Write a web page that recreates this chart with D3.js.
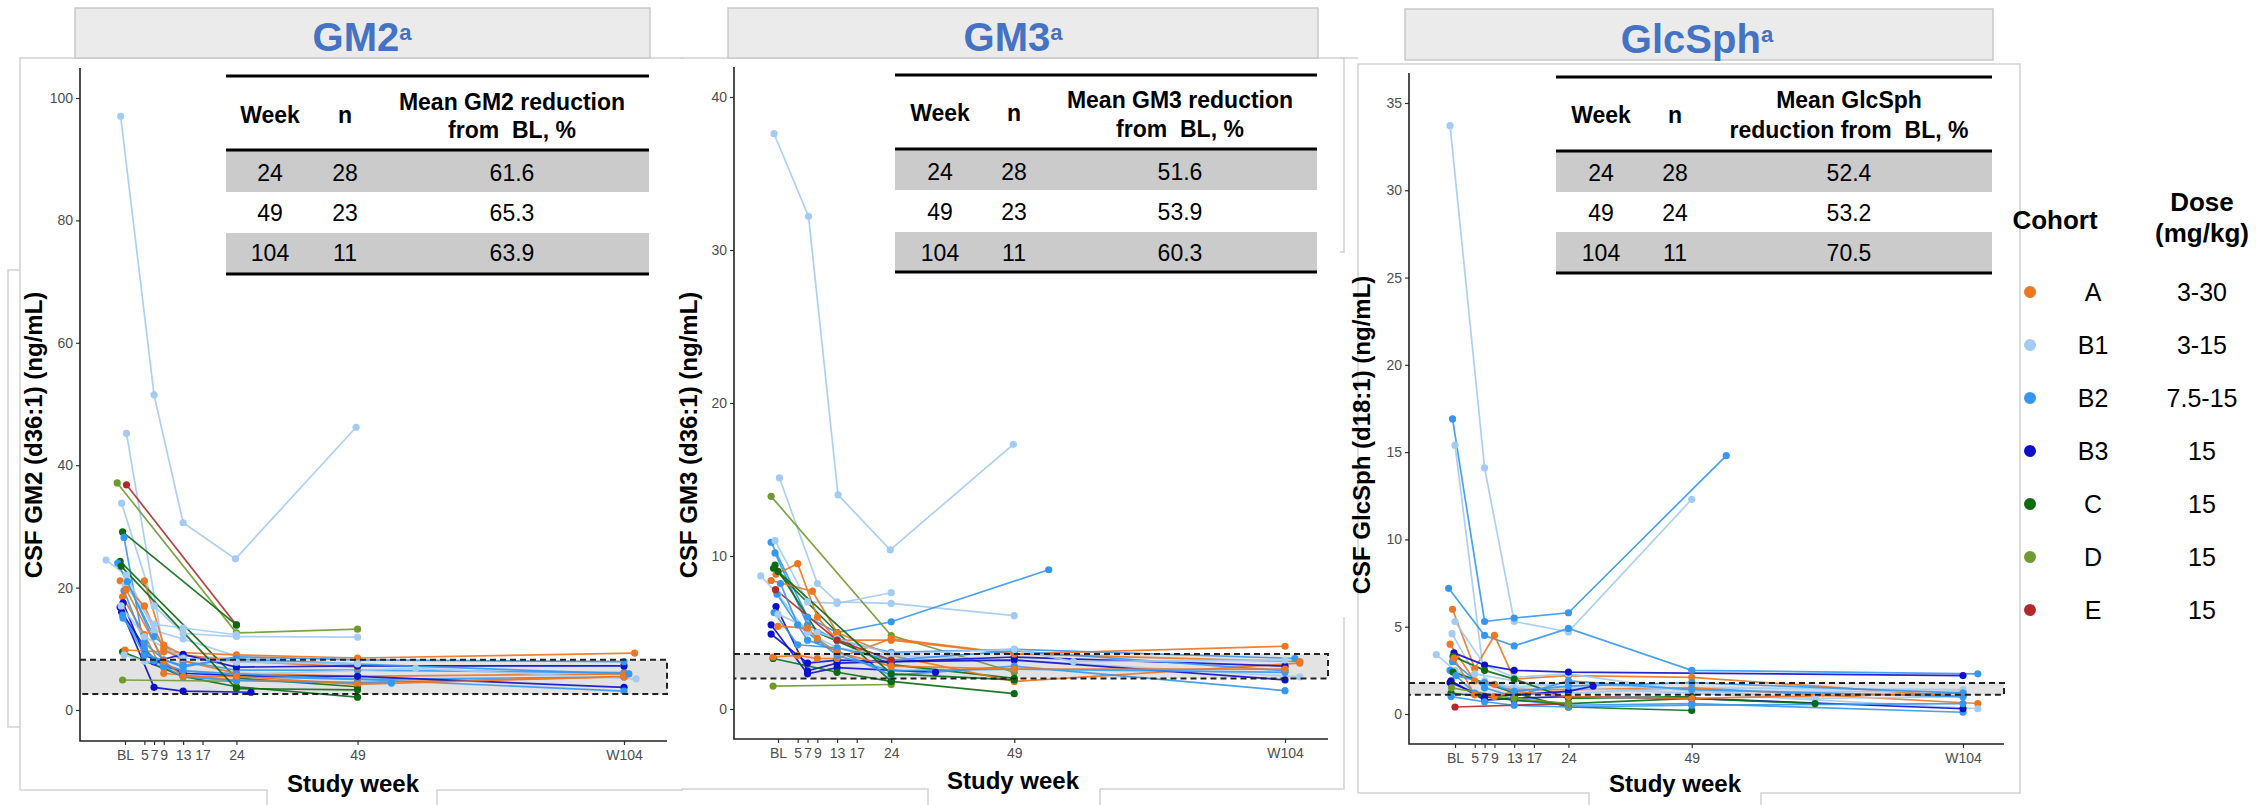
<!DOCTYPE html>
<html>
<head>
<meta charset="utf-8">
<script src="https://cdn.jsdelivr.net/npm/d3@7"></script>
<style>
  body { margin: 0; background: #fff; }
  svg { display: block; font-family: "Liberation Sans", Arial, sans-serif; }
</style>
</head>
<body>
<div id="chart"></div>
<script>
// ---- data ----
var weekTicks = [1, 5, 7, 9, 13, 17, 24, 49, 104];
var weekLabels = ["BL", "5", "7", "9", "13", "17", "24", "49", "W104"];

var cohorts = ["A", "B1", "B2", "B3", "C", "D", "E"];
var doses = ["3-30", "3-15", "7.5-15", "15", "15", "15", "15"];
var cohortColors = ["#ec7622", "#a3cbf3", "#3597f0", "#0c10cc", "#0b6a12", "#6f9a30", "#b02a2a"];

var tableWeeks = [24, 49, 104];
var gm2N = [28, 23, 11], gm2Mean = ["61.6", "65.3", "63.9"];
var gm3N = [28, 23, 11], gm3Mean = ["51.6", "53.9", "60.3"];
var glcN = [28, 24, 11], glcMean = ["52.4", "53.2", "70.5"];

var gm2Ticks = [0, 20, 40, 60, 80, 100];
var gm3Ticks = [0, 10, 20, 30, 40];
var glcTicks = [0, 5, 10, 15, 20, 25, 30, 35];

// normal range band (lower, upper)
var gm2Band = [2.6, 8.2];
var gm3Band = [2.0, 3.6];
var glcBand = [1.1, 1.78];

// one entry per subject: cohort + [week, value] visits
var gm2Subjects = [
  {c: "B1", v: [[0.1, 97], [7, 51.5], [13, 30.6], [23.8, 24.7], [48.7, 46.2]]},
  {c: "B1", v: [[1.3, 45.2], [9, 9.5], [13, 8.8], [24, 8.5], [49, 7.5]]},
  {c: "D",  v: [[-0.6, 37.1], [24, 12.6], [49, 13.2]]},
  {c: "E",  v: [[1.3, 36.8], [24, 13.9]]},
  {c: "B1", v: [[0.3, 33.8], [7, 17], [13, 12.5], [24, 12], [49, 11.9]]},
  {c: "C",  v: [[0.5, 29.1], [24, 13.9]]},
  {c: "B2", v: [[0.8, 28.2], [5, 10], [9, 7], [13, 6.5], [24, 5.5], [49, 5], [104, 5.4]]},
  {c: "B1", v: [[-2.9, 24.5], [1.3, 22], [7, 13], [13, 11.6], [24, 8.8], [49, 7.2], [104, 7.2]]},
  {c: "C",  v: [[0, 24.3], [24, 5.2], [49, 3.8]]},
  {c: "B2", v: [[-0.5, 24], [7, 12], [13, 8], [24, 6.5], [49, 6.5], [104, 6.1]]},
  {c: "A",  v: [[0, 21.1], [5, 17], [9, 10], [13, 8], [24, 6], [49, 5.5], [104, 5.9]]},
  {c: "A",  v: [[5, 21.1], [9, 10.6], [13, 9], [24, 8], [49, 7]]},
  {c: "B3", v: [[0, 16.8], [7, 3.7], [13, 3.1], [27, 2.9]]},
  {c: "B3", v: [[0.3, 16], [7, 7.9], [13, 9.1], [24, 7], [49, 7.2], [104, 7.2]]},
  {c: "A",  v: [[0.5, 18.5], [5, 12.3], [9, 6], [24, 4.9], [49, 4.5], [104, 5.4]]},
  {c: "B2", v: [[0.8, 19.5], [5, 11], [9, 8.2], [13, 7], [24, 8.7], [49, 8.2], [104, 7.9]]},
  {c: "B1", v: [[1, 20.5], [7, 14], [13, 13.4], [24, 12.3]]},
  {c: "C",  v: [[0.5, 9.5], [13, 5.5], [24, 3.8], [49, 2.1]]},
  {c: "D",  v: [[0.5, 4.9], [24, 4.7]]},
  {c: "A",  v: [[1, 9.8], [9, 9.5], [24, 9], [49, 8.5], [106.2, 9.3]]},
  {c: "B2", v: [[0.6, 15], [7, 8], [13, 5.4], [24, 4.8], [49, 4.4], [56, 4.4]]},
  {c: "B1", v: [[0.8, 9], [5, 8], [13, 6.5], [24, 5.8], [61, 6.8], [106.5, 5.1]]},
  {c: "B3", v: [[0.6, 17.5], [5, 9], [13, 6], [24, 5.6], [49, 5.5], [104, 3.7]]},
  {c: "B2", v: [[1.5, 21], [9, 7.5], [13, 6.4], [24, 5.9], [104, 3.1]]},
  {c: "A",  v: [[1.2, 19.7], [9, 8], [13, 5.5], [24, 5.5], [49, 4.2], [104, 5.5]]},
  {c: "B2", v: [[0.5, 15.5], [5, 9], [13, 7.3], [24, 8.3], [49, 7.5], [105, 5.9]]},
  {c: "C",  v: [[0.2, 23.5], [24, 3.5], [49, 3.3]]},
  {c: "B1", v: [[0.2, 17], [5, 12], [13, 8.5], [24, 7.8], [49, 7.6]]}
];

var gm3Subjects = [
  {c: "B1", v: [[0.2, 37.6], [7.2, 32.2], [13.2, 14.0], [23.8, 10.4], [48.8, 17.3]]},
  {c: "B1", v: [[1.3, 15.1], [9, 8.2], [13, 7], [24, 6.9], [49, 6.1]]},
  {c: "D",  v: [[-0.4, 13.9], [24, 4.8], [49, 2.4]]},
  {c: "B2", v: [[-0.4, 10.9], [7, 6], [13, 5], [24, 5.7], [56, 9.1]]},
  {c: "B1", v: [[0.4, 11.0], [7, 7], [13, 6.9], [24, 7.6]]},
  {c: "B2", v: [[0.4, 10.2], [7, 5.5], [13, 4.5], [24, 3.7], [49, 3.9], [106, 3.3]]},
  {c: "C",  v: [[0.4, 9.4], [9, 5], [24, 2.9], [49, 2.0]]},
  {c: "C",  v: [[0.1, 9.2], [13, 5], [24, 1.8], [49, 1.0]]},
  {c: "A",  v: [[0.6, 8.8], [5, 9.5], [9, 6], [13, 4.5], [24, 4.5], [49, 3.6], [104, 4.1]]},
  {c: "A",  v: [[-0.4, 8.4], [8, 7.7], [13, 5], [24, 3.5], [49, 1.8], [107, 3.0]]},
  {c: "B1", v: [[-2.5, 8.7], [1, 7.5], [7, 5], [13, 4], [24, 3.5], [49, 3.2], [107, 2.1]]},
  {c: "B3", v: [[0.6, 6.7], [7, 2.5], [13, 3], [24, 3.1], [49, 3.4], [104, 2.8]]},
  {c: "B3", v: [[-0.4, 5.5], [7, 2.3], [13, 2.7], [33, 2.4]]},
  {c: "B3", v: [[-0.4, 4.9], [7, 3], [13, 3.2], [24, 3.1], [49, 3.2], [104, 1.9]]},
  {c: "D",  v: [[0, 1.5], [24, 1.6]]},
  {c: "C",  v: [[0, 3.3], [13, 2.4], [24, 1.8]]},
  {c: "A",  v: [[0, 3.4], [5, 3.5], [9, 3.3], [13, 3.3], [24, 4.6], [49, 3.6], [107, 3.1]]},
  {c: "B2", v: [[0.8, 7.5], [7, 4.5], [13, 3.8], [24, 2.2], [49, 2.8], [104, 1.2]]},
  {c: "B2", v: [[0.2, 6.3], [5, 4.2], [13, 4], [24, 3.2], [49, 3.8], [104, 2.5]]},
  {c: "B1", v: [[1, 6.2], [9, 5], [13, 4.6], [24, 3.6], [49, 3.9], [61, 3.1], [104, 3.2]]},
  {c: "E",  v: [[0.5, 7.8], [13, 4.5], [24, 3.2]]},
  {c: "B2", v: [[1.5, 8.2], [5, 5.5], [9, 4.5], [13, 3.5], [24, 2.5], [49, 2.6], [104, 2.4]]},
  {c: "A",  v: [[1, 5.4], [7, 5.3], [9, 4.6], [13, 3.7], [24, 2.8], [49, 2.6], [104, 2.6]]},
  {c: "C",  v: [[1, 9.0], [24, 2.3], [49, 1.9]]}
];

var glcSubjects = [
  {c: "B1", v: [[0, 33.7], [7, 14.1], [13, 5.3], [24, 4.7], [49, 12.3]]},
  {c: "B2", v: [[0.5, 16.9], [7, 5.3], [13, 5.5], [24, 5.8], [56, 14.8]]},
  {c: "B1", v: [[1, 15.4], [7, 1.9], [13, 1.5], [24, 1.2], [49, 1.5], [104, 1.4]]},
  {c: "B2", v: [[-0.3, 7.2], [7, 4.5], [13, 3.9], [24, 4.9], [49, 2.5], [107, 2.3]]},
  {c: "A",  v: [[0.5, 6.0], [5, 2.6], [9, 4.5], [13, 2.0], [24, 2.2], [49, 2.1], [104, 1.0]]},
  {c: "A",  v: [[0, 4.0], [5, 1.9], [9, 1.7], [13, 1.4], [24, 1.4], [49, 1.5], [107, 0.6]]},
  {c: "B1", v: [[1, 5.3], [7, 2.8], [13, 2.1], [24, 2.3], [49, 1.3], [104, 1.3]]},
  {c: "B1", v: [[0.4, 4.6], [5, 2.3], [13, 1.9], [24, 1.5], [49, 1.2], [107, 0.3]]},
  {c: "B1", v: [[-2.8, 3.4], [1, 2.5], [7, 1.7], [13, 1.5], [24, 1.8], [74, 0.9], [104, 1.0]]},
  {c: "B3", v: [[0.8, 3.5], [7, 2.8], [13, 2.5], [24, 2.4], [104, 2.2]]},
  {c: "C",  v: [[0.6, 3.3], [7, 2.5], [13, 2], [24, 0.9], [49, 1.0]]},
  {c: "B2", v: [[0.5, 3.0], [7, 1.5], [13, 1.0], [24, 1.9], [49, 1.4], [104, 1.0]]},
  {c: "B2", v: [[0, 2.5], [5, 1.2], [13, 0.8], [24, 0.5], [49, 0.6], [104, 0.1]]},
  {c: "C",  v: [[0.6, 2.4], [13, 1.2], [24, 0.4], [49, 0.2]]},
  {c: "B3", v: [[0, 1.8], [7, 1.0], [13, 1.1], [24, 1.3], [29, 1.6]]},
  {c: "B3", v: [[0.2, 1.9], [7, 0.8], [13, 0.9], [24, 1.0], [49, 0.9], [104, 0.3]]},
  {c: "C",  v: [[0.2, 1.2], [13, 0.8], [24, 0.6], [49, 0.9], [74, 0.6]]},
  {c: "B2", v: [[0.2, 1.0], [7, 0.7], [13, 0.5], [24, 0.4], [49, 0.5], [104, 0.6]]},
  {c: "E",  v: [[1, 0.4], [24, 0.6]]},
  {c: "A",  v: [[0.8, 3.2], [5, 1.1], [9, 1.0], [13, 1.3], [24, 1.0], [49, 0.9], [104, 1.2]]},
  {c: "B2", v: [[1.2, 2.2], [7, 1.8], [13, 1.3], [24, 1.6], [49, 1.8], [104, 1.2]]},
  {c: "D",  v: [[0.3, 1.5], [13, 0.9], [24, 0.6]]}
];

// ---- layout ----
var W = 2256, H = 805;
var color = d3.scaleOrdinal().domain(cohorts).range(cohortColors);

var panels = [
  {title: "GM2", subjects: gm2Subjects, band: gm2Band, yTicks: gm2Ticks, n: gm2N, mean: gm2Mean,
   yLabel: "CSF GM2 (d36:1) (ng/mL)", head: ["Mean GM2 reduction", "from \u00a0BL, %"],
   box: [75, 8, 650, 58], titleX: 362, titleY: 51,
   ax: [80, 667], ay: [68, 741], blX: 125, lastX: 624, zeroY: 710, topY: 98,
   tab: {x0: 226, x1: 649, top: 76, rows: [150, 192, 233, 274], cols: [270, 345, 512], headY: [102, 130, 115], rowY: [173, 213, 253]},
   ylabX: 33, studyX: 353, studyY: 792},
  {title: "GM3", subjects: gm3Subjects, band: gm3Band, yTicks: gm3Ticks, n: gm3N, mean: gm3Mean,
   yLabel: "CSF GM3 (d36:1) (ng/mL)", head: ["Mean GM3 reduction", "from \u00a0BL, %"],
   box: [728, 8, 1318, 58], titleX: 1013, titleY: 51,
   ax: [734, 1328], ay: [67, 739], blX: 778, lastX: 1285, zeroY: 709, topY: 97,
   tab: {x0: 895, x1: 1317, top: 75, rows: [149, 190, 232, 272], cols: [940, 1014, 1180], headY: [100, 129, 113], rowY: [172, 212, 253]},
   ylabX: 688, studyX: 1013, studyY: 789},
  {title: "GlcSph", subjects: glcSubjects, band: glcBand, yTicks: glcTicks, n: glcN, mean: glcMean,
   yLabel: "CSF GlcSph (d18:1) (ng/mL)", head: ["Mean GlcSph", "reduction from \u00a0BL, %"],
   box: [1405, 9, 1993, 60], titleX: 1697, titleY: 53,
   ax: [1409, 2004], ay: [73, 744], blX: 1455, lastX: 1963, zeroY: 714, topY: 103,
   tab: {x0: 1556, x1: 1992, top: 77, rows: [151, 192, 232, 273], cols: [1601, 1675, 1849], headY: [100, 130, 115], rowY: [173, 213, 253]},
   ylabX: 1361, studyX: 1675, studyY: 792}
];

var svg = d3.select("#chart").append("svg")
  .attr("width", W)
  .attr("height", H);

svg.append("rect").attr("width", W).attr("height", H).attr("fill", "#fff");

// light frames left over from the pasted panels
var frames = [
  "M20,790 V58 H683",
  "M20,790 H267 V805 M437,805 V790 H683",
  "M20,270 H8 V727 H20",
  "M681,58 H1344 V252 H1340",
  "M681,789 H928 V805 M1100,805 V789 H1344 V617",
  "M1340,58 H1358",
  "M1358,793 V64 H2020 V793 H1761 V805 M1589,805 V793 H1358"
];
svg.append("g").selectAll("path")
  .data(frames)
  .enter().append("path")
  .attr("d", function (d) { return d; })
  .attr("fill", "none")
  .attr("stroke", "#d2d2d2")
  .attr("stroke-width", 1.5);

panels.forEach(drawPanel);
drawLegend();

function drawPanel(p) {
  var g = svg.append("g");

  var x = d3.scaleLinear().domain([1, 104]).range([p.blX, p.lastX]);
  var top = p.yTicks[p.yTicks.length - 1];
  var y = d3.scaleLinear().domain([0, top]).range([p.zeroY, p.topY]);

  // header strip
  g.append("rect")
    .attr("x", p.box[0]).attr("y", p.box[1])
    .attr("width", p.box[2] - p.box[0]).attr("height", p.box[3] - p.box[1])
    .attr("fill", "#ebebeb")
    .attr("stroke", "#c9c9c9")
    .attr("stroke-width", 1.5);

  var t = g.append("text")
    .attr("x", p.titleX).attr("y", p.titleY)
    .attr("text-anchor", "middle")
    .attr("fill", "#4472c4")
    .style("font-weight", "bold")
    .style("font-size", "40px");
  t.append("tspan").text(p.title);
  t.append("tspan").attr("dy", -11).style("font-size", "22px").text("a");

  // reference band
  g.append("rect")
    .attr("x", p.ax[0]).attr("y", y(p.band[1]))
    .attr("width", p.ax[1] - p.ax[0]).attr("height", y(p.band[0]) - y(p.band[1]))
    .attr("fill", "#e3e3e3");

  var line = d3.line()
    .x(function (d) { return x(d[0]); })
    .y(function (d) { return y(d[1]); });

  g.append("g").selectAll("path")
    .data(p.subjects)
    .enter().append("path")
    .attr("d", function (d) { return line(d.v); })
    .attr("fill", "none")
    .attr("stroke", function (d) { return color(d.c); })
    .attr("stroke-width", 1.7)
    .attr("stroke-opacity", 0.9);

  var pts = [];
  p.subjects.forEach(function (s) {
    s.v.forEach(function (v) { pts.push({c: s.c, w: v[0], val: v[1]}); });
  });
  g.append("g").selectAll("circle")
    .data(pts)
    .enter().append("circle")
    .attr("cx", function (d) { return x(d.w); })
    .attr("cy", function (d) { return y(d.val); })
    .attr("r", 3.6)
    .attr("fill", function (d) { return color(d.c); });

  // dashed band edges
  g.append("path")
    .attr("d", "M" + p.ax[0] + "," + y(p.band[1]) + " H" + p.ax[1] + " V" + y(p.band[0]) + " H" + p.ax[0])
    .attr("fill", "none")
    .attr("stroke", "#222")
    .attr("stroke-width", 2)
    .attr("stroke-dasharray", "6,4");

  // axes
  var yAxis = g.append("g")
    .attr("transform", "translate(" + p.ax[0] + ",0)")
    .call(d3.axisLeft(y).tickValues(p.yTicks).tickSize(4).tickPadding(3));
  var xAxis = g.append("g")
    .attr("transform", "translate(0," + p.ay[1] + ")")
    .call(d3.axisBottom(x).tickValues(weekTicks).tickSize(4).tickPadding(5)
      .tickFormat(function (d, i) { return weekLabels[i]; }));
  [yAxis, xAxis].forEach(function (a) {
    a.select(".domain").remove();
    a.selectAll(".tick line").attr("stroke", "#333").attr("stroke-width", 1.2);
    a.selectAll(".tick text")
      .attr("fill", "#4d4d4d")
      .style("font-size", "14px")
      .style("font-family", "'Liberation Sans', Arial, sans-serif");
  });
  g.append("path")
    .attr("d", "M" + p.ax[0] + "," + p.ay[0] + " V" + p.ay[1] + " H" + p.ax[1])
    .attr("fill", "none")
    .attr("stroke", "#222")
    .attr("stroke-width", 1.6);

  // axis titles
  g.append("text")
    .attr("transform", "translate(" + p.ylabX + ",435) rotate(-90)")
    .attr("text-anchor", "middle")
    .attr("dominant-baseline", "central")
    .style("font-weight", "bold")
    .style("font-size", "24px")
    .text(p.yLabel);

  g.append("text")
    .attr("x", p.studyX).attr("y", p.studyY)
    .attr("text-anchor", "middle")
    .style("font-weight", "bold")
    .style("font-size", "24px")
    .text("Study week");

  drawTable(g, p);
}

function drawTable(g, p) {
  var tb = p.tab;
  var w = tb.x1 - tb.x0;

  [0, 2].forEach(function (i) {
    g.append("rect")
      .attr("x", tb.x0).attr("y", tb.rows[i])
      .attr("width", w).attr("height", tb.rows[i + 1] - tb.rows[i])
      .attr("fill", "#cbcbcb");
  });
  g.selectAll(null)
    .data([tb.top, tb.rows[0], tb.rows[3]])
    .enter().append("line")
    .attr("x1", tb.x0).attr("x2", tb.x1)
    .attr("y1", function (d) { return d; }).attr("y2", function (d) { return d; })
    .attr("stroke", "#000")
    .attr("stroke-width", 3);

  var head = g.append("g")
    .style("font-weight", "bold")
    .style("font-size", "23px")
    .attr("text-anchor", "middle")
    .attr("dominant-baseline", "central");
  head.append("text").attr("x", tb.cols[0]).attr("y", tb.headY[2]).text("Week");
  head.append("text").attr("x", tb.cols[1]).attr("y", tb.headY[2]).text("n");
  head.append("text").attr("x", tb.cols[2]).attr("y", tb.headY[0]).text(p.head[0]);
  head.append("text").attr("x", tb.cols[2]).attr("y", tb.headY[1]).text(p.head[1]);

  var body = g.append("g")
    .style("font-size", "23px")
    .attr("text-anchor", "middle")
    .attr("dominant-baseline", "central");
  tableWeeks.forEach(function (wk, i) {
    var row = [wk, p.n[i], p.mean[i]];
    row.forEach(function (v, j) {
      body.append("text").attr("x", tb.cols[j]).attr("y", tb.rowY[i]).text(v);
    });
  });
}

function drawLegend() {
  var lg = svg.append("g");
  lg.append("text")
    .attr("x", 2055).attr("y", 220)
    .attr("text-anchor", "middle").attr("dominant-baseline", "central")
    .style("font-weight", "bold").style("font-size", "26px")
    .text("Cohort");
  lg.append("text")
    .attr("x", 2202).attr("y", 202)
    .attr("text-anchor", "middle").attr("dominant-baseline", "central")
    .style("font-weight", "bold").style("font-size", "26px")
    .text("Dose");
  lg.append("text")
    .attr("x", 2202).attr("y", 233)
    .attr("text-anchor", "middle").attr("dominant-baseline", "central")
    .style("font-weight", "bold").style("font-size", "26px")
    .text("(mg/kg)");

  var rowY = d3.scalePoint().domain(cohorts).range([292, 610]);
  var rows = lg.selectAll(".row")
    .data(cohorts)
    .enter().append("g")
    .attr("transform", function (d) { return "translate(0," + rowY(d) + ")"; });
  rows.append("circle")
    .attr("cx", 2030).attr("cy", 0).attr("r", 6)
    .attr("fill", function (d) { return color(d); });
  rows.append("text")
    .attr("x", 2093).attr("y", 0)
    .attr("text-anchor", "middle").attr("dominant-baseline", "central")
    .style("font-size", "25px")
    .text(function (d) { return d; });
  rows.append("text")
    .attr("x", 2202).attr("y", 0)
    .attr("text-anchor", "middle").attr("dominant-baseline", "central")
    .style("font-size", "25px")
    .text(function (d, i) { return doses[i]; });
}
</script>
</body>
</html>
